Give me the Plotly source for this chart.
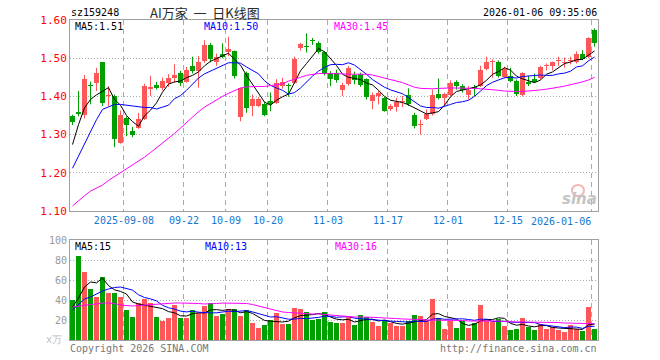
import plotly.graph_objects as go
import pandas as pd

# ---------------- data ----------------
holidays = ["2025-10-01", "2025-10-02", "2025-10-03", "2025-10-06", "2025-10-07",
            "2025-10-08", "2026-01-01", "2026-01-02"]
trade_days = [d.strftime("%Y-%m-%d") for d in pd.bdate_range("2025-08-26", "2026-01-06")
              if d.strftime("%Y-%m-%d") not in holidays]

opens = [1.348, 1.358, 1.351, 1.430, 1.436, 1.489, 1.400, 1.401, 1.279, 1.344,
         1.309, 1.318, 1.342, 1.420, 1.430, 1.423, 1.436, 1.447, 1.460, 1.439,
         1.480, 1.467, 1.493, 1.535, 1.491, 1.511, 1.515, 1.518, 1.346, 1.462,
         1.375, 1.375, 1.381, 1.389, 1.384, 1.427, 1.430, 1.436, 1.526, 1.531,
         1.547, 1.541, 1.515, 1.462, 1.462, 1.416, 1.433, 1.456, 1.458, 1.445,
         1.388, 1.401, 1.395, 1.366, 1.372, 1.385, 1.403, 1.351, 1.325, 1.342,
         1.353, 1.407, 1.396, 1.403, 1.439, 1.427, 1.404, 1.425, 1.427, 1.471,
         1.490, 1.489, 1.451, 1.454, 1.440, 1.404, 1.438, 1.446, 1.447, 1.479,
         1.480, 1.492, 1.488, 1.492, 1.489, 1.511, 1.502, 1.574]
highs = [1.352, 1.414, 1.456, 1.439, 1.475, 1.490, 1.427, 1.405, 1.363, 1.348,
         1.320, 1.357, 1.433, 1.454, 1.438, 1.449, 1.458, 1.484, 1.467, 1.477,
         1.504, 1.506, 1.547, 1.540, 1.512, 1.539, 1.556, 1.520, 1.423, 1.465,
         1.405, 1.398, 1.385, 1.410, 1.445, 1.449, 1.434, 1.504, 1.540, 1.565,
         1.553, 1.544, 1.518, 1.466, 1.470, 1.436, 1.480, 1.465, 1.462, 1.447,
         1.410, 1.414, 1.398, 1.380, 1.396, 1.401, 1.421, 1.357, 1.339, 1.366,
         1.418, 1.447, 1.410, 1.442, 1.442, 1.432, 1.427, 1.430, 1.480, 1.504,
         1.497, 1.494, 1.478, 1.475, 1.444, 1.463, 1.454, 1.460, 1.480, 1.486,
         1.491, 1.504, 1.502, 1.504, 1.518, 1.521, 1.555, 1.578]
lows = [1.325, 1.348, 1.342, 1.379, 1.414, 1.375, 1.375, 1.267, 1.276, 1.296,
        1.293, 1.315, 1.338, 1.401, 1.418, 1.416, 1.425, 1.436, 1.427, 1.436,
        1.460, 1.423, 1.488, 1.489, 1.480, 1.500, 1.505, 1.447, 1.335, 1.357,
        1.348, 1.372, 1.348, 1.361, 1.380, 1.420, 1.399, 1.433, 1.520, 1.515,
        1.535, 1.512, 1.455, 1.427, 1.436, 1.401, 1.428, 1.432, 1.425, 1.392,
        1.366, 1.379, 1.360, 1.362, 1.360, 1.372, 1.375, 1.316, 1.300, 1.338,
        1.350, 1.392, 1.375, 1.400, 1.418, 1.410, 1.392, 1.401, 1.425, 1.468,
        1.449, 1.449, 1.447, 1.437, 1.401, 1.400, 1.427, 1.435, 1.444, 1.468,
        1.468, 1.480, 1.475, 1.484, 1.486, 1.495, 1.500, 1.530]
closes = [1.332, 1.353, 1.445, 1.426, 1.462, 1.382, 1.402, 1.289, 1.351, 1.326,
          1.300, 1.342, 1.427, 1.424, 1.423, 1.440, 1.447, 1.455, 1.436, 1.469,
          1.467, 1.491, 1.535, 1.497, 1.504, 1.504, 1.525, 1.454, 1.421, 1.370,
          1.392, 1.392, 1.351, 1.379, 1.436, 1.439, 1.427, 1.497, 1.537, 1.529,
          1.545, 1.515, 1.460, 1.445, 1.442, 1.430, 1.475, 1.442, 1.430, 1.398,
          1.403, 1.408, 1.363, 1.376, 1.386, 1.387, 1.379, 1.322, 1.327, 1.354,
          1.403, 1.395, 1.405, 1.436, 1.427, 1.416, 1.418, 1.421, 1.468, 1.489,
          1.492, 1.454, 1.471, 1.440, 1.407, 1.460, 1.432, 1.439, 1.477, 1.481,
          1.489, 1.494, 1.490, 1.494, 1.511, 1.497, 1.553, 1.539]

ma5 = [1.274, 1.326, 1.370, 1.392, 1.404, 1.414, 1.423, 1.392, 1.377, 1.350,
       1.334, 1.322, 1.349, 1.364, 1.383, 1.411, 1.432, 1.438, 1.440, 1.449,
       1.455, 1.464, 1.480, 1.492, 1.499, 1.506, 1.513, 1.497, 1.482, 1.455,
       1.432, 1.406, 1.385, 1.377, 1.390, 1.399, 1.406, 1.436, 1.467, 1.486,
       1.507, 1.525, 1.517, 1.499, 1.481, 1.458, 1.450, 1.447, 1.444, 1.435,
       1.430, 1.416, 1.400, 1.390, 1.387, 1.384, 1.378, 1.370, 1.360, 1.354,
       1.357, 1.360, 1.377, 1.399, 1.413, 1.416, 1.420, 1.424, 1.430, 1.442,
       1.458, 1.465, 1.475, 1.469, 1.453, 1.446, 1.442, 1.436, 1.443, 1.458,
       1.464, 1.476, 1.486, 1.490, 1.496, 1.497, 1.509, 1.519]
ma10 = [1.212, 1.243, 1.278, 1.309, 1.339, 1.366, 1.373, 1.379, 1.379, 1.377,
        1.374, 1.373, 1.371, 1.371, 1.367, 1.372, 1.377, 1.394, 1.402, 1.416,
        1.433, 1.448, 1.459, 1.466, 1.474, 1.481, 1.488, 1.488, 1.487, 1.477,
        1.469, 1.459, 1.441, 1.429, 1.422, 1.416, 1.406, 1.410, 1.422, 1.438,
        1.453, 1.466, 1.476, 1.483, 1.484, 1.483, 1.488, 1.482, 1.471, 1.458,
        1.444, 1.433, 1.424, 1.417, 1.411, 1.407, 1.397, 1.385, 1.375, 1.371,
        1.371, 1.369, 1.373, 1.379, 1.384, 1.386, 1.390, 1.400, 1.414, 1.428,
        1.437, 1.443, 1.449, 1.450, 1.448, 1.452, 1.453, 1.455, 1.456, 1.455,
        1.455, 1.459, 1.461, 1.466, 1.477, 1.480, 1.493, 1.503]
ma30 = [1.113, 1.127, 1.140, 1.152, 1.160, 1.168, 1.180, 1.190, 1.200, 1.210,
        1.220, 1.230, 1.241, 1.253, 1.265, 1.278, 1.291, 1.303, 1.317, 1.332,
        1.345, 1.360, 1.372, 1.382, 1.390, 1.400, 1.408, 1.416, 1.422, 1.425,
        1.426, 1.426, 1.426, 1.428, 1.430, 1.433, 1.440, 1.446, 1.450, 1.455,
        1.458, 1.460, 1.460, 1.460, 1.460, 1.459, 1.458, 1.458, 1.458, 1.458,
        1.456, 1.452, 1.450, 1.446, 1.442, 1.436, 1.430, 1.424, 1.421, 1.420,
        1.420, 1.421, 1.422, 1.422, 1.422, 1.422, 1.421, 1.421, 1.420, 1.419,
        1.417, 1.416, 1.414, 1.413, 1.413, 1.413, 1.414, 1.415, 1.417, 1.419,
        1.421, 1.424, 1.427, 1.430, 1.434, 1.438, 1.443, 1.450]

volumes = [40, 84, 68, 51, 43, 63, 47, 47, 43, 30,
           23, 37, 41, 37, 23, 19, 22, 35, 22, 22,
           30, 27, 34, 37, 24, 26, 31, 31, 24, 30,
           17, 12, 15, 20, 27, 16, 16, 32, 31, 28,
           20, 21, 28, 18, 17, 17, 23, 15, 25, 23,
           18, 14, 20, 17, 14, 14, 19, 25, 24, 20,
           41, 22, 11, 19, 12, 19, 12, 17, 35, 20,
           18, 21, 14, 10, 11, 22, 13, 10, 16, 11,
           13, 10, 8, 15, 11, 9, 33, 11]
vol_ma5 = [33, 42, 53, 58, 57.2, 61.8, 54.4, 50.2, 48.6, 46,
           38, 36, 34.8, 33.6, 32.2, 31.4, 28.4, 27.2, 24.2, 24,
           26.2, 27.2, 27, 30, 30.4, 29.6, 30.4, 29.8, 27.2, 28.4,
           26.6, 22.8, 19.6, 18.8, 18.2, 18, 18.8, 22.2, 24.4, 24.6,
           25.4, 26.4, 25.6, 23, 20.8, 20.2, 20.6, 18, 19.4, 20.6,
           20.8, 19, 20, 18.4, 16.6, 15.8, 16.8, 17.8, 19.2, 20.4,
           25.8, 26.4, 23.6, 22.6, 21, 16.6, 14.6, 15.8, 19, 20.6,
           20.4, 22.2, 21.6, 16.6, 14.8, 15.6, 14, 13.2, 14.4, 14.4,
           12.6, 12, 11.6, 11.4, 11.4, 10.6, 15.2, 15.8]
vol_ma10 = [30, 36, 41, 43, 46, 49, 51, 52.5, 53, 51.6,
            49.9, 45.2, 42.5, 41.1, 39.1, 34.7, 32.2, 31, 28.9, 28.1,
            28.8, 27.8, 27.1, 27.1, 27.2, 27.9, 28.8, 28.4, 28.6, 29.4,
            28.1, 26.6, 24.7, 23, 23.3, 22.3, 20.8, 20.9, 21.6, 21.4,
            21.7, 22.6, 23.9, 23.7, 22.7, 22.8, 23.5, 21.8, 21.2, 20.7,
            20.5, 19.8, 19, 18.9, 18.6, 18.3, 17.9, 18.9, 18.8, 18.5,
            20.8, 21.6, 20.7, 20.9, 20.7, 21.2, 20.5, 19.7, 20.8, 20.8,
            18.5, 18.4, 18.7, 17.8, 17.7, 18, 18.1, 17.4, 15.5, 14.6,
            14.1, 13, 12.4, 12.9, 12.9, 11.6, 13.6, 13.7]
vol_ma30 = [33, 34, 35, 35.5, 36, 37, 37, 36.5, 35, 34.5,
            34, 34.5, 35, 35, 35.5, 36, 36.5, 37, 37, 37,
            37, 36.5, 36, 36, 36.5, 37, 37, 37, 37, 36.5,
            35.5, 34, 33, 31, 29.5, 28, 27.5, 27, 27, 26.5,
            26, 26, 25.5, 25, 24, 24, 23.5, 23, 23, 23,
            22.5, 22.5, 22, 22, 21.5, 21, 21, 20.5, 20.5, 20,
            20, 20, 20, 20, 19.5, 19.5, 19, 19, 19, 19.5,
            19.5, 19, 18.5, 18, 18, 18, 18, 18, 18, 17.5,
            17.5, 17.5, 17, 17, 17, 16.5, 16.5, 16.3]

tick_dates = ["2025-09-08", "2025-09-22", "2025-10-09", "2025-10-20", "2025-11-03",
              "2025-11-17", "2025-12-01", "2025-12-15", "2026-01-06"]
tick_labels = ["2025-09-08", "09-22", "10-09", "10-20", "11-03",
               "11-17", "12-01", "12-15", "2026-01-06"]
price_ticks = [1.10, 1.20, 1.30, 1.40, 1.50, 1.60]
vol_ticks = [20, 40, 60, 80, 100]

symbol = "sz159248"
title = "AI万家  一  日K线图"
stamp = "2026-01-06 09:35:06"
price_legend = ["MA5:1.51", "MA10:1.50", "MA30:1.45"]
vol_legend = ["MA5:15", "MA10:13", "MA30:16"]

# ---------------- styling ----------------
RED = "#ff5757"
GREEN = "#00a000"
MA_COLORS = ["#000000", "#0000ff", "#ff00ff"]
GRID = "#aaaaaa"
FRAME = "#a0a0a0"
MONO = "DejaVu Sans Mono"

W, H = 660, 360
L, R, T, B = 70, 62, 20, 20
PW, PH = W - L - R, H - T - B


def ax(px):
    return (px - L) / PW


def ay(py):
    return (H - B - py) / PH


n = len(trade_days)
assert all(len(a) == n for a in [opens, highs, lows, closes, ma5, ma10, ma30,
                                  volumes, vol_ma5, vol_ma10, vol_ma30])
xs = list(range(n))
min_body = 0.0028

fig = go.Figure()

for color, up in [(RED, True), (GREEN, False)]:
    idx = [i for i in xs if (closes[i] >= opens[i]) == up]
    wx, wy = [], []
    for i in idx:
        wx += [i, i, None]
        wy += [lows[i], highs[i], None]
    fig.add_trace(go.Scatter(x=wx, y=wy, mode="lines", line=dict(color=color, width=1),
                             xaxis="x", yaxis="y", hoverinfo="skip", showlegend=False))
    fig.add_trace(go.Bar(
        x=idx,
        base=[min(opens[i], closes[i]) for i in idx],
        y=[max(abs(closes[i] - opens[i]), min_body) for i in idx],
        width=0.83, marker=dict(color=color, line=dict(width=0)),
        xaxis="x", yaxis="y", hoverinfo="skip", showlegend=False))
    fig.add_trace(go.Bar(
        x=idx, y=[volumes[i] for i in idx], width=0.83,
        marker=dict(color=color, line=dict(width=0)),
        xaxis="x2", yaxis="y2", hoverinfo="skip", showlegend=False))

for series, c in zip([ma5, ma10, ma30], MA_COLORS):
    fig.add_trace(go.Scatter(x=xs, y=series, mode="lines", line=dict(color=c, width=1),
                             xaxis="x", yaxis="y", hoverinfo="skip", showlegend=False))
for series, c in zip([vol_ma5, vol_ma10, vol_ma30], MA_COLORS):
    fig.add_trace(go.Scatter(x=xs, y=series, mode="lines", line=dict(color=c, width=1),
                             xaxis="x2", yaxis="y2", hoverinfo="skip", showlegend=False))

tickvals = [trade_days.index(d) - 0.42 for d in tick_dates]
xrange = [-0.417, n - 0.417]

common_x = dict(range=xrange, tickvals=tickvals, showgrid=True, gridcolor=GRID,
                griddash="5px,4px", gridwidth=1, zeroline=False, showline=True,
                linecolor=FRAME, linewidth=1, mirror=True, ticks="")

annotations = []


def txt(s, px, py, color, anchor="left", size=10, family=MONO):
    annotations.append(dict(text=s, x=ax(px), y=ay(py), xref="paper", yref="paper",
                            xanchor=anchor, yanchor="middle", showarrow=False,
                            font=dict(family=family, size=size, color=color)))


txt(symbol, 69, 12, "#000000")
txt(title, 148, 13, "#2a2a2a", size=13, family="Noto Sans CJK SC")
txt(stamp, 599, 12, "#000000", anchor="right")
for s, px, c in zip(price_legend, [73, 202, 332], MA_COLORS):
    txt(s, px, 27, c)
for s, px, c in zip(vol_legend, [73, 203, 333], MA_COLORS):
    txt(s, px, 246, c)
txt(tick_labels[-1], 593, 221, "#1478d2", anchor="right")
txt("Copyright 2026 SINA.COM", 68, 348, "#777777")
txt("http://finance.sina.com.cn", 599, 348, "#777777", anchor="right")
txt("x万", 64, 339, "#bbbbbb", anchor="right")
txt("<b><i>sina</i></b>", 599, 199, "#c4c4c4", anchor="right", size=15, family="DejaVu Sans")

fig.update_layout(
    width=W, height=H,
    margin=dict(l=L, r=R, t=T, b=B, pad=0),
    paper_bgcolor="white", plot_bgcolor="white",
    barmode="overlay", bargap=0,
    showlegend=False,
    xaxis=dict(common_x, anchor="y", domain=[0, 1],
               ticktext=tick_labels[:-1] + [""], showticklabels=True,
               tickfont=dict(family=MONO, size=10, color="#1478d2")),
    xaxis2=dict(common_x, anchor="y2", domain=[0, 1], matches="x",
                showticklabels=False),
    yaxis=dict(domain=[ay(211), 1], range=[1.10, 1.60], tickvals=price_ticks,
               ticktext=[f"{v:.2f}" for v in price_ticks],
               tickfont=dict(family=MONO, size=11, color="#ff0000"),
               showgrid=True, gridcolor=GRID, griddash="1px,2px", zeroline=False,
               showline=True, linecolor=FRAME, linewidth=1, mirror=True, ticks=""),
    yaxis2=dict(domain=[0, ay(240)], range=[0, 100], tickvals=vol_ticks,
                ticktext=[str(v) for v in vol_ticks],
                tickfont=dict(family=MONO, size=10, color="#999999"),
                showgrid=True, gridcolor=GRID, griddash="1px,2px", zeroline=False,
                showline=True, linecolor=FRAME, linewidth=1, mirror=True, ticks=""),
    annotations=annotations,
    shapes=[dict(type="circle", xref="paper", yref="paper",
                 x0=ax(572), x1=ax(584), y0=ay(196), y1=ay(185),
                 line=dict(color="#f2b8b8", width=2))],
)

fig.write_html(
    "out.html",
    config={"staticPlot": True},
    post_script="document.body.style.margin='0px';document.body.style.overflow='hidden';",
)
